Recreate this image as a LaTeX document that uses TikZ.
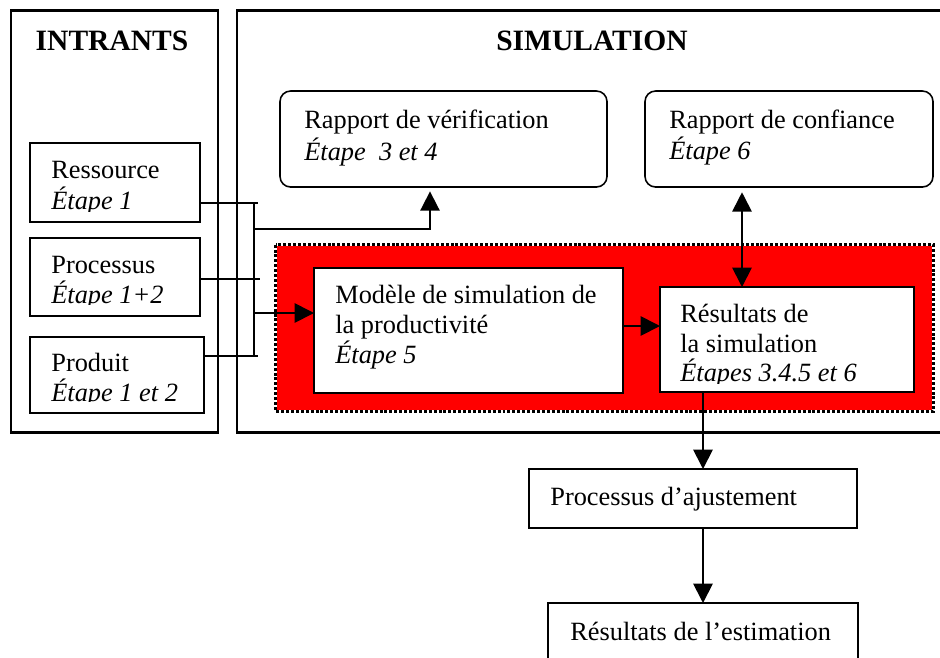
\documentclass[tikz,border=0pt]{standalone}
\usepackage{fontspec}
\setmainfont{Liberation Serif}
\usetikzlibrary{arrows.meta,fit}
\begin{document}
\begin{tikzpicture}[x=0.02cm,y=-0.02cm,
  lbl/.style={anchor=base west,inner sep=0,font=\fontsize{15}{18}\selectfont},
  lbli/.style={anchor=base west,inner sep=0,font=\fontsize{15}{18}\selectfont\itshape},
  ttl/.style={anchor=base,inner sep=0,font=\fontsize{16.8}{20}\selectfont\bfseries},
  frame/.style={draw,line width=1.7pt},
  box/.style={draw,line width=0.9pt,fill=white,inner sep=0pt},
  rbox/.style={box,rounded corners=6pt},
  conn/.style={line width=1pt},
  arr/.style={conn,-{Triangle[length=11pt,width=11pt]}},
  darr/.style={conn,{Triangle[length=11pt,width=11pt]}-{Triangle[length=11pt,width=11pt]}}
]
\useasboundingbox (0,0) rectangle (940,657);

% outer frames
\node[frame,inner sep=0pt,fit={(11,10) (218,432)}] (intrants) {};
\node[frame,inner sep=0pt,fit={(237,10) (960,432)}] (simulation) {};
\node[ttl] (tin) at (112,50) {INTRANTS};
\node[ttl] (tsim) at (592,50) {SIMULATION};

% input boxes
\node[box,fit={(30,143) (200,222)}] (res) {};
\node[box,fit={(30,238) (200,316)}] (proc) {};
\node[box,fit={(30,337) (204,413)}] (prod) {};
\begin{scope}
  \clip (30,143) rectangle (200,211);
  \node[lbl] (res1) at (51,178) {Ressource};
  \node[lbli] (res2) at (51,209) {Étape 1};
\end{scope}
\begin{scope}
  \clip (30,238) rectangle (200,304);
  \node[lbl] (proc1) at (51,273) {Processus};
  \node[lbli] (proc2) at (51,303) {Étape 1+2};
\end{scope}
\begin{scope}
  \clip (30,337) rectangle (204,401);
  \node[lbl] (prod1) at (51,371) {Produit};
  \node[lbli] (prod2) at (51,401) {Étape 1 et 2};
\end{scope}

% report boxes
\node[rbox,fit={(280,91) (607,187)}] (verif) {};
\node[lbl] (verif1) at (304,128) {Rapport de vérification};
\node[lbli] (verif2) at (304,160) {Étape\ \ 3 et 4};
\node[rbox,fit={(645,91) (933,187)}] (conf) {};
\node[lbl] (conf1) at (669,128) {Rapport de confiance};
\node[lbli] (conf2) at (669,159) {Étape 6};

% red simulation core
\node[fill=red,inner sep=0pt,fit={(276,245) (933,411)}] (core) {};
\draw[white,line width=1.4pt] (core.north west) rectangle (core.south east);
\draw[black,line width=1.4pt,dash pattern=on 1.7pt off 1.1pt] (core.north west) rectangle (core.south east);

\node[box,fit={(314,268) (623,393)}] (model) {};
\node[lbl] (model1) at (335,303) {Modèle de simulation de};
\node[lbl] (model2) at (335,333) {la productivité};
\node[lbli] (model3) at (335,363) {Étape 5};

\node[box,fit={(660,287) (914,392)}] (simres) {};
\begin{scope}
  \clip (660,287) rectangle (914,383);
  \node[lbl] (simres1) at (680,322) {Résultats de};
  \node[lbl] (simres2) at (680,352) {la simulation};
  \node[lbli] (simres3) at (680,381) {Étapes 3.4.5 et 6};
\end{scope}

% output boxes
\node[box,fit={(529,469) (857,528)}] (adjust) {};
\node[lbl] (adjust1) at (550,505) {Processus d’ajustement};
\node[box,line width=1.6pt,fit={(548,603) (858,700)}] (estim) {};
\node[lbl] (estim1) at (570,640) {Résultats de l’estimation};

% inputs bus
\coordinate (resout) at (200,203);
\coordinate (resend) at (258,203);
\coordinate (procout) at (200,279);
\coordinate (procend) at (260,279);
\coordinate (prodout) at (204,356);
\coordinate (prodend) at (258,356);
\coordinate (bustop) at (254,202);
\coordinate (busbot) at (254,356);
\draw[conn] (resout) -- (resend);
\draw[conn] (procout) -- (procend);
\draw[conn] (prodout) -- (prodend);
\draw[conn] (bustop) -- (busbot);

\coordinate (busa) at (254,229);
\coordinate (verifin) at (430,187);
\draw[arr,shorten >=2.5pt] (busa) -| (verifin);
\coordinate (busb) at (254,313);
\coordinate (modelin) at (314,313);
\draw[arr] (busb) -- (modelin);

% internal flows
\coordinate (modelout) at (623,326);
\coordinate (simresin) at (660,326);
\draw[arr] (modelout) -- (simresin);
\coordinate (confout) at (742,187);
\coordinate (simrestop) at (742,287);
\draw[darr,shorten <=3pt] (confout) -- (simrestop);

\coordinate (simresout) at (703,392);
\coordinate (adjustin) at (703,469);
\draw[arr] (simresout) -- (adjustin);
\coordinate (adjustout) at (703,528);
\coordinate (estimin) at (703,603);
\draw[arr] (adjustout) -- (estimin);
\end{tikzpicture}
\end{document}
